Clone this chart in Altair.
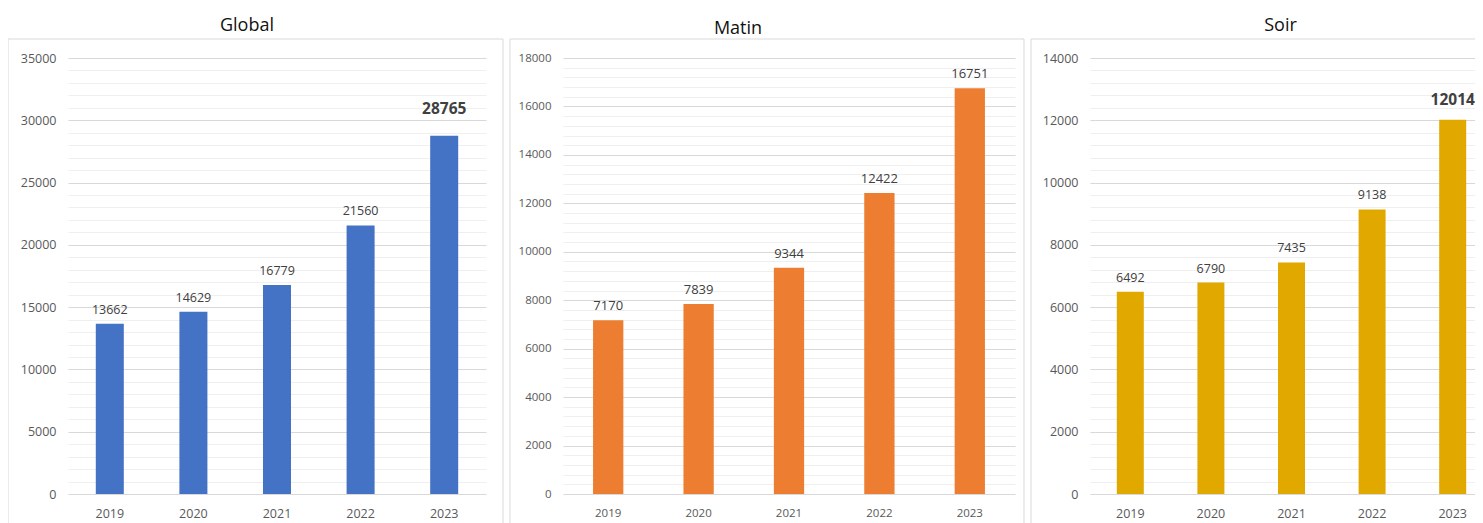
import altair as alt
import pandas as pd

years = ["2019", "2020", "2021", "2022", "2023"]
global_vals = [13662, 14629, 16779, 21560, 28765]
matin_vals = [7170, 7839, 9344, 12422, 16751]
soir_vals = [6492, 6790, 7435, 9138, 12014]

titles = ["Global", "Matin", "Soir"]
colors = ["#4472C4", "#ED7D31", "#E1A800"]
y_max = [35000, 18000, 14000]
major_ticks = [
    [0, 5000, 10000, 15000, 20000, 25000, 30000, 35000],
    [0, 2000, 4000, 6000, 8000, 10000, 12000, 14000, 16000, 18000],
    [0, 2000, 4000, 6000, 8000, 10000, 12000, 14000],
]
minor_ticks = [
    list(range(0, 35001, 1000)),
    list(range(0, 18001, 400)),
    list(range(0, 14001, 400)),
]
emphasize_last = [True, False, True]

FONT = "Open Sans"
H = 436


def panel(i, vals, width, left, right, dx, tdy, axis_fs, label_fs, bold_dy):
    df = pd.DataFrame({"year": years, "value": vals})
    base = alt.Chart(df)
    yscale = alt.Scale(domain=[0, y_max[i]], nice=False, zero=True)
    x = alt.X(
        "year:N",
        sort=years,
        scale=alt.Scale(paddingInner=0.665, paddingOuter=0.3325),
        axis=alt.Axis(
            title=None, labelAngle=0, domain=False, ticks=False, grid=False,
            labelPadding=13, labelFont=FONT, labelFontSize=axis_fs,
            labelColor="#595959",
        ),
    )
    border = alt.Chart(pd.DataFrame({"k": [0]})).mark_rect(
        fillOpacity=0, stroke="#d9d9d9", strokeWidth=1
    ).encode(
        x=alt.value(-left), x2=alt.value(width + right),
        y=alt.value(-19), y2=alt.value(H + 70),
    )
    minor = base.mark_bar(opacity=0).encode(
        x=x,
        y=alt.Y(
            "value:Q", scale=yscale,
            axis=alt.Axis(
                values=minor_ticks[i], grid=True, gridColor="#efefef",
                labels=False, ticks=False, domain=False, title=None, orient="left",
            ),
        ),
    )
    bars = base.mark_bar(color=colors[i]).encode(
        x=x,
        y=alt.Y(
            "value:Q", scale=yscale,
            axis=alt.Axis(
                values=major_ticks[i], grid=True, gridColor="#d9d9d9",
                ticks=False, domain=False, title=None, orient="left", format="d",
                labelFont=FONT, labelFontSize=axis_fs, labelColor="#595959",
                labelPadding=12,
            ),
        ),
    )
    if emphasize_last[i]:
        normal_base = base.transform_filter(alt.datum.year != "2023")
    else:
        normal_base = base
    labels = normal_base.mark_text(
        dy=-14, baseline="middle", font=FONT, fontSize=label_fs, color="#404040"
    ).encode(
        x=x, y=alt.Y("value:Q", scale=yscale, axis=None),
        text=alt.Text("value:Q", format="d"),
    )
    layers = [border, minor, bars, labels]
    if emphasize_last[i]:
        bold = base.transform_filter(alt.datum.year == "2023").mark_text(
            dy=bold_dy, baseline="middle", font=FONT, fontSize=15.5,
            fontWeight="bold", color="#404040",
        ).encode(
            x=x, y=alt.Y("value:Q", scale=yscale, axis=None),
            text=alt.Text("value:Q", format="d"),
        )
        layers.append(bold)
    return alt.layer(*layers).resolve_axis(y="independent").properties(
        width=width, height=H,
        title=alt.TitleParams(
            text=titles[i], font=FONT, fontSize=18, fontWeight="normal",
            color="#111111", frame="group", anchor="middle", dx=dx, dy=tdy,
            offset=5, baseline="bottom",
        ),
    )


p1 = panel(0, global_vals, 418, 60, 17, -30, 19, 12.5, 12.5, -27)
p2 = panel(1, matin_vals, 452, 53, 9, -51, 22, 11.5, 13, -14)
p3 = panel(2, soir_vals, 403, 59, 30, -11, 19, 12.5, 12.5, -20)

chart = alt.hconcat(p1, p2, p3, spacing=5).configure_view(stroke=None).properties(
    autosize=alt.AutoSizeParams(type="none"),
    padding={"left": 60, "top": 50, "right": 1407, "bottom": 457},
)

chart.save("out.html", embed_options={"renderer": "svg", "actions": False})
